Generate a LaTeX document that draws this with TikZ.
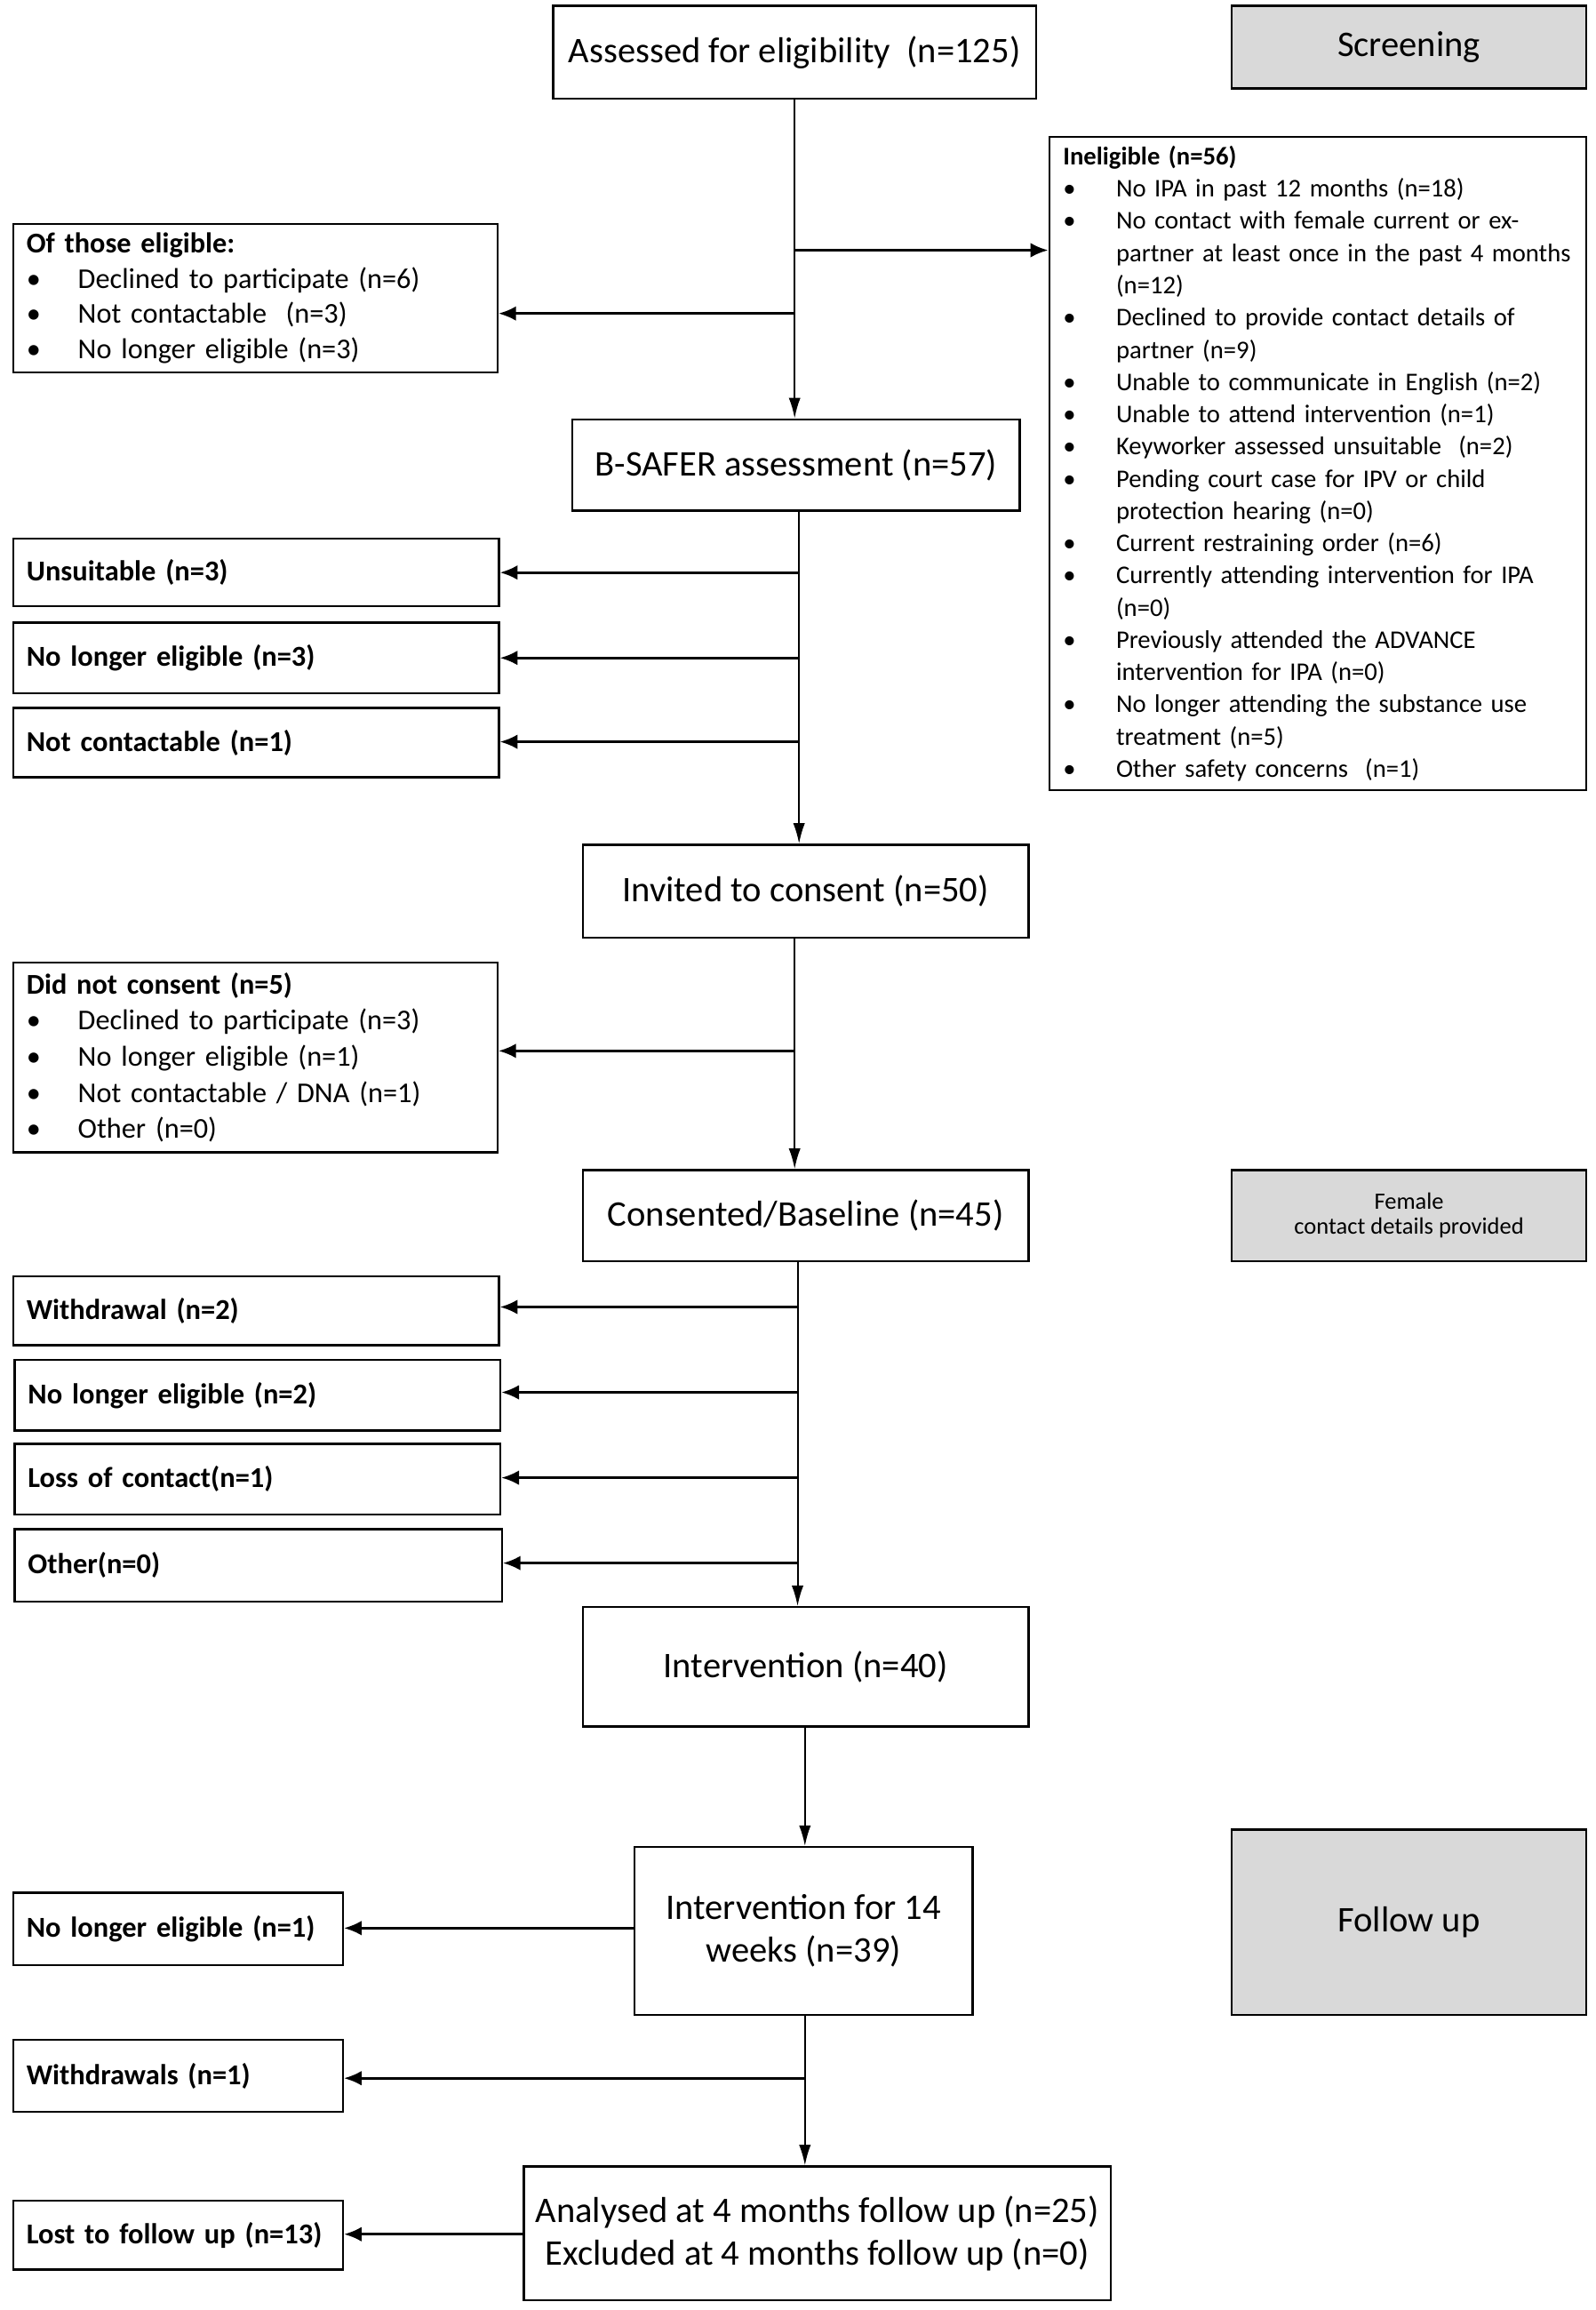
\documentclass[tikz,border=0pt]{standalone}
\usepackage{fontspec}
\setmainfont{Carlito}
\usetikzlibrary{arrows.meta}
\definecolor{boxgray}{HTML}{D9D9D9}
\newcommand\bl[1]{\mbox{\makebox[36pt][l]{\textbullet}#1}}
\newcommand\cl[1]{\mbox{\hspace*{36pt}#1}}
\newcommand\bs[1]{\mbox{\makebox[35pt][l]{\textbullet}#1}}
\tikzset{
  box/.style={draw, line width=1.4pt, inner sep=0pt, align=center, font=\fontsize{24.5}{29}\selectfont},
  graybox/.style={box, fill=boxgray},
  sidebox/.style={draw, line width=1.4pt, inner xsep=9pt, inner ysep=0pt, align=left, font=\bfseries\fontsize{19.6}{24}\selectfont},
  listbox/.style={draw, line width=1.4pt, inner xsep=9pt, inner ysep=0pt, align=left},
  varr/.style={line width=1.2pt, -{Latex[length=14pt,width=8pt]}},
  harr/.style={line width=1.8pt, -{Latex[length=12pt,width=10pt]}},
}
\begin{document}
\begin{tikzpicture}[x=1pt,y=-1pt]
\useasboundingbox (0,0) rectangle (1084,1569.5);
% main column
\node[box, minimum width=328pt, minimum height=63pt] (assess) at (540,35.5) {Assessed for eligibility\ \ (n=125)};
\node[graybox, minimum width=241pt, minimum height=56pt] (screen) at (957.5,32) {Screening};
\node[listbox, inner xsep=9.5pt, minimum width=365pt, minimum height=444pt, text width=346pt, font=\fontsize{17.3}{21.9}\selectfont] (inelig) at (895.5,315) {\textbf{Ineligible (n=56)}\\
\bl{No IPA in past 12 months (n=18)}\\
\bl{No contact with female current or ex-}\\
\cl{partner at least once in the past 4 months}\\
\cl{(n=12)}\\
\bl{Declined to provide contact details of}\\
\cl{partner (n=9)}\\
\bl{Unable to communicate in English (n=2)}\\
\bl{Unable to attend intervention (n=1)}\\
\bl{Keyworker assessed unsuitable\ \ (n=2)}\\
\bl{Pending court case for IPV or child}\\
\cl{protection hearing (n=0)}\\
\bl{Current restraining order (n=6)}\\
\bl{Currently attending intervention for IPA}\\
\cl{(n=0)}\\
\bl{Previously attended the ADVANCE}\\
\cl{intervention for IPA (n=0)}\\
\bl{No longer attending the substance use}\\
\cl{treatment (n=5)}\\
\bl{Other safety concerns\ \ (n=1)}};
\node[listbox, minimum width=329pt, minimum height=101pt, text width=311pt, font=\fontsize{19.5}{24}\selectfont] (elig) at (173.5,202.5) {\textbf{Of those eligible:}\\
\bs{Declined to participate (n=6)}\\
\bs{Not contactable\ \ (n=3)}\\
\bs{No longer eligible (n=3)}};
\node[box, minimum width=304pt, minimum height=62pt] (bsafer) at (541,316) {B-SAFER assessment (n=57)};
\node[sidebox, minimum width=330pt, minimum height=46pt, text width=312pt] (unsuit) at (174,389) {Unsuitable (n=3)};
\node[sidebox, minimum width=330pt, minimum height=48pt, text width=312pt] (nleA) at (174,447) {No longer eligible (n=3)};
\node[sidebox, minimum width=330pt, minimum height=47pt, text width=312pt] (ncA) at (174,504.5) {Not contactable (n=1)};
\node[box, minimum width=303pt, minimum height=63pt] (invited) at (547.5,605.5) {Invited to consent (n=50)};
\node[listbox, minimum width=329pt, minimum height=129pt, text width=311pt, font=\fontsize{19.5}{24.5}\selectfont] (nocons) at (173.5,718.5) {\textbf{Did not consent (n=5)}\\
\bs{Declined to participate (n=3)}\\
\bs{No longer eligible (n=1)}\\
\bs{Not contactable / DNA (n=1)}\\
\bs{Other (n=0)}};
\node[box, minimum width=303pt, minimum height=62pt] (consent) at (547.5,826) {Consented/Baseline (n=45)};
\node[graybox, minimum width=241pt, minimum height=62pt, font=\fontsize{16}{17}\selectfont] (female) at (957.5,826) {Female\\contact details provided};
\node[sidebox, minimum width=330pt, minimum height=47pt, text width=312pt] (withd) at (174,890.5) {Withdrawal (n=2)};
\node[sidebox, minimum width=330pt, minimum height=48pt, text width=312pt] (nleB) at (175,948) {No longer eligible (n=2)};
\node[sidebox, minimum width=330pt, minimum height=48pt, text width=312pt] (loss) at (175,1005) {Loss of contact(n=1)};
\node[sidebox, minimum width=331pt, minimum height=49pt, text width=313pt] (other) at (175.5,1063.5) {Other(n=0)};
\node[box, minimum width=303pt, minimum height=81pt] (interv) at (547.5,1132.5) {Intervention (n=40)};
\node[box, minimum width=230pt, minimum height=114pt] (intervB) at (546,1312) {Intervention for 14\\weeks (n=39)};
\node[graybox, minimum width=241pt, minimum height=126pt] (follow) at (957.5,1306) {Follow up};
\node[sidebox, minimum width=224pt, minimum height=49pt, text width=206pt] (nleC) at (121,1310.5) {No longer eligible (n=1)};
\node[sidebox, minimum width=224pt, minimum height=49pt, text width=206pt] (withds) at (121,1410.5) {Withdrawals (n=1)};
\node[box, minimum width=399pt, minimum height=91pt] (analysed) at (555.5,1517.5) {Analysed at 4 months follow up (n=25)\\Excluded at 4 months follow up (n=0)};
\node[sidebox, minimum width=224pt, minimum height=47pt, text width=206pt] (lost) at (121,1518.5) {Lost to follow up (n=13)};
% vertical connectors
\draw[varr] (assess.south) -- (assess.south |- bsafer.north);
\coordinate (c1) at (543,347);
\draw[varr] (c1) -- (c1 |- invited.north);
\coordinate (c2) at (540,637);
\draw[varr] (c2) -- (c2 |- consent.north);
\coordinate (c3) at (542,857);
\draw[varr] (c3) -- (c3 |- interv.north);
\coordinate (c4) at (547,1173);
\draw[varr] (c4) -- (c4 |- intervB.north);
\coordinate (c5) at (547,1369);
\draw[varr] (c5) -- (c5 |- analysed.north);
% branches
\coordinate (b1) at (540,170);
\draw[harr] (b1) -- (b1 -| inelig.west);
\coordinate (b2) at (540,213);
\draw[harr] (b2) -- (b2 -| elig.east);
\coordinate (b3) at (543,389);
\draw[harr] (b3) -- (b3 -| unsuit.east);
\coordinate (b4) at (543,447);
\draw[harr] (b4) -- (b4 -| nleA.east);
\coordinate (b5) at (543,504);
\draw[harr] (b5) -- (b5 -| ncA.east);
\coordinate (b6) at (540,714);
\draw[harr] (b6) -- (b6 -| nocons.east);
\coordinate (b7) at (542,888);
\draw[harr] (b7) -- (b7 -| withd.east);
\coordinate (b8) at (542,946);
\draw[harr] (b8) -- (b8 -| nleB.east);
\coordinate (b9) at (542,1004);
\draw[harr] (b9) -- (b9 -| loss.east);
\coordinate (b10) at (542,1062);
\draw[harr] (b10) -- (b10 -| other.east);
\coordinate (b11) at (431,1310);
\draw[harr] (b11) -- (b11 -| nleC.east);
\coordinate (b12) at (547,1412);
\draw[harr] (b12) -- (b12 -| withds.east);
\coordinate (b13) at (356,1518);
\draw[harr] (b13) -- (b13 -| lost.east);
\end{tikzpicture}
\end{document}
